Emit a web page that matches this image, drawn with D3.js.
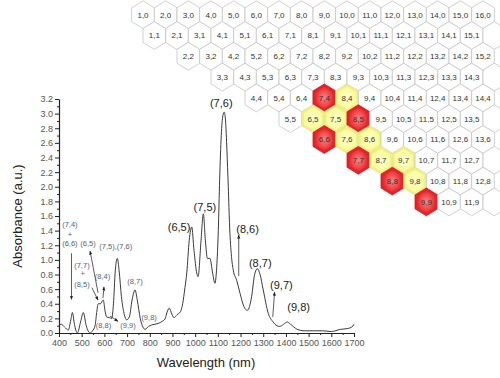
<!DOCTYPE html>
<html>
<head>
<meta charset="utf-8">
<script src="https://cdn.jsdelivr.net/npm/d3@7"></script>
<style>
  body { margin: 0; background: #fff; }
  svg { display: block; font-family: "Liberation Sans", Arial, sans-serif; }
</style>
</head>
<body>
<svg width="500" height="378"></svg>
<script>
// spectrum (nm, absorbance)
const wavelength = [400,410,425,441,452,459,468,481,495,507,520,537,548,559,566,573,582,595,603,610,622,632,640,648,657,665,675,688,698,710,722,735,745,758,770,779,795,808,837,855,867,878,886,897,907,920,935,945,955,963,974,985,995,1007,1013,1026,1036,1045,1054,1065,1077,1087,1095,1102,1108,1115,1122,1128,1134,1140,1146,1152,1160,1168,1183,1198,1215,1230,1249,1262,1274,1286,1300,1322,1344,1360,1373,1390,1406,1420,1450,1480,1520,1560,1600,1640,1670,1690,1700];
const absorbance = [0.10,0.12,0.08,0.04,0.18,0.28,0.12,0.00,0.15,0.28,0.10,0.00,0.03,0.10,0.28,0.40,0.40,0.45,0.30,0.22,0.21,0.20,0.40,0.85,1.02,0.85,0.50,0.25,0.18,0.22,0.45,0.59,0.45,0.20,0.08,0.05,0.09,0.11,0.13,0.16,0.19,0.30,0.34,0.26,0.21,0.25,0.29,0.40,0.62,0.82,1.27,1.45,1.13,0.82,0.77,1.27,1.63,1.27,1.02,1.02,0.82,0.68,0.90,1.40,2.10,2.70,2.97,3.02,2.90,2.50,2.00,1.45,1.05,0.86,0.72,0.54,0.36,0.31,0.50,0.80,0.88,0.80,0.59,0.27,0.15,0.10,0.09,0.12,0.15,0.12,0.05,0.03,0.03,0.03,0.02,0.05,0.06,0.08,0.12];

const xTicks = d3.range(400, 1701, 100);
const yTicks = d3.range(0, 3.21, 0.2);

// peak labels (large, black)
const peakText = ["(7,6)","(7,5)","(6,5)","(8,6)","(8,7)","(9,7)","(9,8)"];
const peakNm   = [1115, 1043, 929, 1231, 1287, 1380, 1456];
const peakAbs  = [3.15, 1.72, 1.45, 1.42, 0.96, 0.65, 0.36];

// small labels (left cluster)
const noteText = ["(7,4)","+","(6,6)","(6,5)","(7,5),(7,6)","(7,7)","+","(8,5)","(8,4)","(8,8)","(9,9)","(9,8)","(8,7)"];
const noteNm   = [448, 448, 448, 528, 650, 501, 504, 501, 592, 596, 704, 797, 735];
const noteAbs  = [1.48, 1.35, 1.22, 1.22, 1.19, 0.93, 0.81, 0.67, 0.78, 0.11, 0.10, 0.22, 0.71];

// arrows [nm, abs] from -> to, head at the "to" point
const arrowFrom = [[455,1.09],[572,0.55],[545,0.62],[594,0.48],[625,0.23],[1192,0.78],[1342,0.22]];
const arrowTo   = [[455,0.46],[537,1.12],[572,0.45],[598,0.63],[660,0.16],[1192,1.34],[1350,0.56]];

// chirality map
const hexRowStart = [1,1,2,3,4,5,6,7,8,9];
const hexRowEnd   = [16,15,15,14,14,13,13,12,12,11];
const metallic = ["7,4","8,5","6,6","7,7","8,8","9,9"];
const semicond = ["8,4","6,5","7,5","7,6","8,6","8,7","9,7","9,8"];

const svg = d3.select("svg");

const defs = svg.append("defs");
const rg = defs.append("radialGradient").attr("id", "red");
rg.append("stop").attr("offset", "0%").attr("stop-color", "#f58585");
rg.append("stop").attr("offset", "60%").attr("stop-color", "#f05050");
rg.append("stop").attr("offset", "100%").attr("stop-color", "#e42a30");
const yg = defs.append("radialGradient").attr("id", "yel");
yg.append("stop").attr("offset", "0%").attr("stop-color", "#ffffd0");
yg.append("stop").attr("offset", "100%").attr("stop-color", "#fbfb98");
defs.append("marker").attr("id", "ah").attr("viewBox", "0 0 10 10")
  .attr("refX", 9).attr("refY", 5).attr("markerWidth", 5).attr("markerHeight", 6)
  .attr("orient", "auto")
  .append("path").attr("d", "M0,1 L10,5 L0,9 Z").attr("fill", "#222");

// ---- hex grid ----
const hx = d3.scaleLinear().domain([1, 16]).range([143, 483]);
const hy = d3.scaleLinear().domain([0, 9]).range([14.7, 201.9]);
const hw = 11.33, hh = 13.9;
const hexPts = (s) => [[0,-hh],[hw,-hh/2],[hw,hh/2],[0,hh],[-hw,hh/2],[-hw,-hh/2]]
  .map(p => [p[0]*s, p[1]*s].join(",")).join(" ");

const cells = [];
hexRowStart.forEach((s, m) => {
  for (let n = s; n <= hexRowEnd[m]; n++) cells.push({n: n, m: m, label: true});
  if (m % 2 === 1) cells.push({n: hexRowEnd[m] + 1, m: m, label: false});
});

const hexG = svg.append("g");
const cg = hexG.selectAll("g").data(cells).enter().append("g")
  .attr("transform", d => `translate(${hx(d.n + d.m/2)},${hy(d.m)})`);
cg.append("polygon")
  .attr("points", hexPts(1))
  .attr("fill", d => {
    const k = d.n + "," + d.m;
    return metallic.includes(k) ? "#e3222a" : semicond.includes(k) ? "#f0f08a" : "#fff";
  })
  .attr("stroke", d => {
    const k = d.n + "," + d.m;
    return metallic.includes(k) ? "#d8141c" : semicond.includes(k) ? "#e4e48a" : "#c4c4c4";
  })
  .attr("stroke-width", 0.8);
cg.filter(d => metallic.includes(d.n + "," + d.m) || semicond.includes(d.n + "," + d.m))
  .append("polygon")
  .attr("points", hexPts(0.8))
  .attr("fill", d => metallic.includes(d.n + "," + d.m) ? "url(#red)" : "url(#yel)");
cg.filter(d => d.label).append("text")
  .attr("text-anchor", "middle").attr("dy", "0.35em")
  .attr("font-size", 8).attr("fill", "#333")
  .text(d => d.n + "," + d.m);

// ---- spectrum ----
const x = d3.scaleLinear().domain([400, 1700]).range([59, 354]);
const y = d3.scaleLinear().domain([0, 3.2]).range([333, 99]);

svg.append("g").attr("transform", "translate(0,333)")
  .call(d3.axisBottom(x).tickValues(xTicks).tickSize(4).tickSizeOuter(0).tickPadding(3).tickFormat(d3.format("d")));
svg.append("g").attr("transform", "translate(0,333)")
  .call(d3.axisBottom(x).tickValues(d3.range(450, 1700, 100)).tickSize(2).tickFormat(""))
  .select(".domain").remove();
svg.append("g").attr("transform", "translate(59,0)")
  .call(d3.axisLeft(y).tickValues(yTicks).tickSize(4).tickSizeOuter(0).tickPadding(2).tickFormat(d3.format(".1f")));
svg.append("g").attr("transform", "translate(59,0)")
  .call(d3.axisLeft(y).tickValues(d3.range(0.1, 3.2, 0.2)).tickSize(2).tickFormat(""))
  .select(".domain").remove();

svg.selectAll(".domain").attr("stroke", "#222").attr("stroke-width", 1.2);
svg.selectAll(".tick line").attr("stroke", "#222");
svg.selectAll(".tick text").attr("font-size", 9).attr("fill", "#555")
  .attr("font-family", "Liberation Sans, Arial, sans-serif");

svg.append("text").attr("x", 206).attr("y", 367).attr("text-anchor", "middle")
  .attr("font-size", 13).attr("fill", "#222").text("Wavelength (nm)");
svg.append("text").attr("transform", "translate(22,216) rotate(-90)").attr("text-anchor", "middle")
  .attr("font-size", 13).attr("fill", "#222").text("Absorbance (a.u.)");

const pts = wavelength.map((w, i) => [w, absorbance[i]]);
svg.append("path").datum(pts)
  .attr("fill", "none").attr("stroke", "#3a3a3a").attr("stroke-width", 1)
  .attr("d", d3.line().x(d => x(d[0])).y(d => y(d[1])).curve(d3.curveMonotoneX));

// arrows
svg.append("g").selectAll("line").data(arrowFrom).enter().append("line")
  .attr("x1", d => x(d[0])).attr("y1", d => y(d[1]))
  .attr("x2", (d, i) => x(arrowTo[i][0])).attr("y2", (d, i) => y(arrowTo[i][1]))
  .attr("stroke", "#333").attr("stroke-width", 0.8).attr("marker-end", "url(#ah)");

// labels
svg.append("g").selectAll("text").data(peakText).enter().append("text")
  .attr("x", (d, i) => x(peakNm[i])).attr("y", (d, i) => y(peakAbs[i]))
  .attr("text-anchor", "middle").attr("dy", "0.35em")
  .attr("font-size", 11).attr("fill", "#1a1a1a").text(d => d);
svg.append("g").selectAll("text").data(noteText).enter().append("text")
  .attr("x", (d, i) => x(noteNm[i])).attr("y", (d, i) => y(noteAbs[i]))
  .attr("text-anchor", "middle").attr("dy", "0.35em")
  .attr("font-size", 7.5).attr("fill", "#55607a").text(d => d);
</script>
</body>
</html>
